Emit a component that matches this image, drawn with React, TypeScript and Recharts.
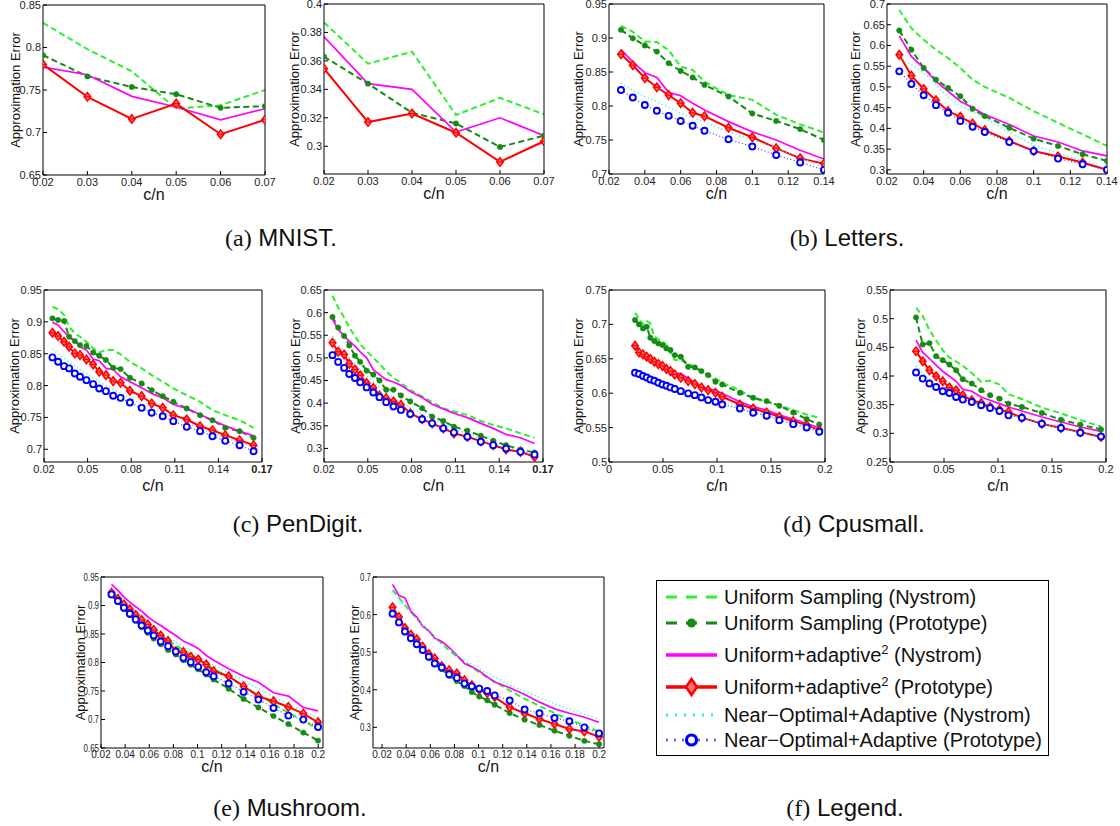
import React from 'react';
import { LineChart, Line, XAxis, YAxis } from 'recharts';

const FONT = '"Liberation Sans", Arial, Helvetica, sans-serif';
const SERIF = '"Liberation Serif", "Times New Roman", serif';

// ---------------- data ----------------
const mnistX = [0.02, 0.03, 0.04, 0.05, 0.06, 0.07];
const mnistA_uniNys = [0.829, 0.798, 0.772, 0.728, 0.732, 0.75];
const mnistA_uniProto = [0.791, 0.766, 0.7535, 0.745, 0.729, 0.731];
const mnistA_adaNys = [0.777, 0.768, 0.7425, 0.73, 0.715, 0.728];
const mnistA_adaProto = [0.78, 0.742, 0.716, 0.734, 0.698, 0.715];
const mnistB_uniNys = [0.387, 0.358, 0.3665, 0.322, 0.334, 0.3225];
const mnistB_uniProto = [0.363, 0.344, 0.3235, 0.316, 0.2995, 0.3075];
const mnistB_adaNys = [0.377, 0.344, 0.34, 0.31, 0.32, 0.3075];
const mnistB_adaProto = [0.3545, 0.317, 0.323, 0.3095, 0.289, 0.3035];

const lettersX = [0.0267, 0.0333, 0.04, 0.0467, 0.0533, 0.06, 0.0667, 0.0733, 0.0867, 0.1, 0.1133, 0.1267, 0.14];
const lettersA_uniNys = [0.918, 0.909, 0.895, 0.894, 0.882, 0.858, 0.853, 0.836, 0.816, 0.809, 0.787, 0.773, 0.761];
const lettersA_uniProto = [0.912, 0.8995, 0.889, 0.88, 0.863, 0.8515, 0.842, 0.831, 0.814, 0.789, 0.778, 0.766, 0.75];
const lettersA_adaNys = [0.883, 0.865, 0.849, 0.842, 0.82, 0.815, 0.804, 0.794, 0.777, 0.762, 0.75, 0.735, 0.722];
const lettersA_adaProto = [0.876, 0.86, 0.841, 0.8275, 0.816, 0.804, 0.79, 0.785, 0.768, 0.754, 0.738, 0.723, 0.715];
const lettersA_optNys = [0.833, 0.823, 0.814, 0.806, 0.798, 0.79, 0.783, 0.776, 0.762, 0.75, 0.738, 0.725, 0.709];
const lettersA_optProto = [0.8235, 0.8125, 0.8015, 0.793, 0.7855, 0.778, 0.771, 0.7635, 0.751, 0.7405, 0.728, 0.717, 0.706];
const lettersB_uniNys = [0.6856, 0.6416, 0.6136, 0.5896, 0.5696, 0.5456, 0.5176, 0.5, 0.4736, 0.4416, 0.4136, 0.3856, 0.3576];
const lettersB_uniProto = [0.636, 0.5896, 0.5456, 0.5176, 0.4976, 0.4776, 0.4472, 0.4296, 0.4016, 0.3752, 0.3576, 0.3376, 0.3216];
const lettersB_adaNys = [0.6232, 0.5736, 0.5456, 0.5136, 0.4896, 0.4656, 0.4496, 0.4336, 0.4096, 0.3816, 0.3672, 0.3456, 0.3336];
const lettersB_adaProto = [0.5776, 0.5272, 0.4952, 0.468, 0.4416, 0.428, 0.412, 0.396, 0.3696, 0.3456, 0.332, 0.3176, 0.3];
const lettersB_optNys = [0.575, 0.553, 0.535, 0.505, 0.475, 0.455, 0.44, 0.425, 0.39, 0.36, 0.34, 0.322, 0.305];
const lettersB_optProto = [0.5376, 0.5072, 0.48, 0.456, 0.4376, 0.4176, 0.404, 0.3912, 0.3672, 0.3456, 0.3272, 0.3136, 0.3];

const penX = [0.0258, 0.0297, 0.0338, 0.0373, 0.0412, 0.0448, 0.0492, 0.0538, 0.058, 0.0626, 0.0676, 0.0727, 0.0791, 0.0872, 0.0941, 0.1017, 0.109, 0.1182, 0.1274, 0.1359, 0.1447, 0.1546, 0.1642];
const penA_uniNys = [0.9238, 0.9196, 0.9107, 0.8924, 0.8819, 0.8766, 0.8688, 0.8583, 0.852, 0.8557, 0.8557, 0.8489, 0.8373, 0.8269, 0.8164, 0.8059, 0.7954, 0.7849, 0.7745, 0.7614, 0.7535, 0.7456, 0.7336];
const penA_uniProto = [0.9055, 0.9028, 0.9013, 0.8766, 0.8698, 0.8635, 0.862, 0.852, 0.8468, 0.84, 0.8279, 0.8258, 0.8122, 0.8033, 0.7928, 0.7834, 0.7745, 0.764, 0.7535, 0.7456, 0.7336, 0.7283, 0.7179];
const penA_adaNys = [0.8992, 0.895, 0.8845, 0.8766, 0.8698, 0.8609, 0.8557, 0.8415, 0.8389, 0.8269, 0.8253, 0.8138, 0.8059, 0.7965, 0.7876, 0.7807, 0.7703, 0.764, 0.7546, 0.7456, 0.7367, 0.7284, 0.721];
const penA_adaProto = [0.8829, 0.8777, 0.8688, 0.8609, 0.8504, 0.8478, 0.841, 0.8331, 0.8216, 0.8164, 0.807, 0.8043, 0.7918, 0.7834, 0.7719, 0.765, 0.7535, 0.7467, 0.7362, 0.7299, 0.7221, 0.7142, 0.7064];
const penA_optNys = [0.857, 0.85, 0.843, 0.837, 0.83, 0.825, 0.819, 0.812, 0.806, 0.8, 0.794, 0.788, 0.781, 0.772, 0.764, 0.757, 0.75, 0.741, 0.733, 0.725, 0.718, 0.711, 0.704];
const penA_optProto = [0.8442, 0.8373, 0.8305, 0.8269, 0.819, 0.8138, 0.8085, 0.8022, 0.7954, 0.7912, 0.7839, 0.7807, 0.7734, 0.765, 0.7572, 0.7519, 0.7441, 0.7352, 0.7284, 0.7205, 0.7132, 0.7064, 0.6969];
const penB_uniNys = [0.6374, 0.6114, 0.5892, 0.5669, 0.5483, 0.5298, 0.515, 0.5001, 0.4868, 0.4704, 0.4556, 0.4445, 0.4296, 0.4148, 0.4022, 0.3888, 0.3814, 0.374, 0.3606, 0.3517, 0.3443, 0.3332, 0.3235];
const penB_uniProto = [0.5906, 0.5669, 0.5483, 0.5276, 0.505, 0.4912, 0.4719, 0.463, 0.45, 0.4296, 0.4296, 0.417, 0.4037, 0.3888, 0.3703, 0.3606, 0.348, 0.3391, 0.328, 0.3168, 0.3072, 0.2975, 0.2909];
const penB_adaNys = [0.5854, 0.5632, 0.5483, 0.5372, 0.5261, 0.5135, 0.5001, 0.4741, 0.463, 0.4519, 0.4467, 0.4393, 0.4259, 0.4126, 0.3977, 0.3873, 0.3777, 0.368, 0.3554, 0.3443, 0.3309, 0.3235, 0.3109];
const penB_adaProto = [0.5335, 0.5135, 0.5075, 0.4868, 0.4741, 0.4615, 0.4445, 0.4333, 0.417, 0.4111, 0.4037, 0.3962, 0.3777, 0.3643, 0.3554, 0.3443, 0.3332, 0.3257, 0.3161, 0.3072, 0.2975, 0.2924, 0.2812];
const penB_optNys = [0.548, 0.53, 0.515, 0.5, 0.487, 0.475, 0.46, 0.448, 0.435, 0.423, 0.413, 0.403, 0.39, 0.376, 0.365, 0.353, 0.343, 0.333, 0.322, 0.312, 0.303, 0.296, 0.288];
const penB_optProto = [0.5061, 0.4912, 0.4779, 0.4645, 0.4556, 0.446, 0.4348, 0.4237, 0.4133, 0.4022, 0.3925, 0.3851, 0.3762, 0.3643, 0.3554, 0.3443, 0.3354, 0.3257, 0.3146, 0.3072, 0.2998, 0.2924, 0.2864];

const cpuAX = [0.0241, 0.0278, 0.0315, 0.0349, 0.0383, 0.042, 0.0457, 0.0495, 0.0532, 0.0569, 0.0609, 0.0665, 0.0733, 0.0795, 0.0856, 0.0918, 0.0986, 0.1048, 0.1212, 0.1335, 0.1459, 0.1577, 0.1706, 0.183, 0.1947];
const cpuA_uniNys = [0.717, 0.7088, 0.7, 0.7049, 0.7015, 0.6821, 0.6787, 0.6758, 0.67, 0.6593, 0.6481, 0.6481, 0.6433, 0.6384, 0.6312, 0.6263, 0.6215, 0.615, 0.6045, 0.5924, 0.5875, 0.5827, 0.5754, 0.5691, 0.5642];
const cpuA_uniProto = [0.7063, 0.7, 0.6942, 0.6966, 0.6806, 0.6758, 0.6724, 0.67, 0.6651, 0.6627, 0.6554, 0.653, 0.6384, 0.6375, 0.6321, 0.6263, 0.6166, 0.6127, 0.6006, 0.5933, 0.5885, 0.5817, 0.572, 0.5623, 0.5545];
const cpuA_adaNys = [0.6758, 0.6627, 0.6593, 0.6554, 0.653, 0.6457, 0.6433, 0.6409, 0.636, 0.6312, 0.6287, 0.6287, 0.6215, 0.6157, 0.6093, 0.606, 0.6045, 0.5996, 0.5875, 0.5802, 0.5754, 0.5681, 0.5623, 0.556, 0.5497];
const cpuA_adaProto = [0.669, 0.6593, 0.6564, 0.653, 0.6496, 0.6457, 0.6423, 0.6394, 0.6351, 0.6321, 0.6273, 0.6224, 0.6176, 0.6132, 0.6084, 0.6045, 0.6006, 0.5948, 0.5836, 0.5778, 0.572, 0.5657, 0.5594, 0.5536, 0.5463];
const cpuA_optNys = [0.634, 0.632, 0.629, 0.627, 0.624, 0.622, 0.619, 0.617, 0.615, 0.612, 0.61, 0.607, 0.603, 0.6, 0.597, 0.593, 0.59, 0.587, 0.58, 0.574, 0.569, 0.563, 0.557, 0.552, 0.546];
const cpuA_optProto = [0.6297, 0.6278, 0.6249, 0.6229, 0.62, 0.6181, 0.6152, 0.6127, 0.6108, 0.6084, 0.606, 0.603, 0.5997, 0.5972, 0.5938, 0.59, 0.5875, 0.5836, 0.5778, 0.5715, 0.5672, 0.5608, 0.555, 0.5502, 0.5439];
const cpuBX = [0.0241, 0.0303, 0.0365, 0.0427, 0.0488, 0.055, 0.0612, 0.0674, 0.0757, 0.0844, 0.0927, 0.1014, 0.1097, 0.1221, 0.1406, 0.1583, 0.1762, 0.1954];
const cpuB_uniNys = [0.519, 0.505, 0.48, 0.462, 0.445, 0.432, 0.425, 0.418, 0.405, 0.39, 0.392, 0.385, 0.368, 0.36, 0.345, 0.335, 0.323, 0.312];
const cpuB_uniProto = [0.5022, 0.455, 0.4573, 0.4346, 0.4276, 0.42, 0.4101, 0.3943, 0.3868, 0.3751, 0.3664, 0.3605, 0.3518, 0.346, 0.3355, 0.3238, 0.3151, 0.3069];
const cpuB_adaNys = [0.4625, 0.441, 0.4305, 0.4188, 0.4083, 0.3996, 0.3908, 0.3768, 0.3734, 0.3634, 0.3576, 0.3518, 0.346, 0.339, 0.3285, 0.3197, 0.311, 0.3034];
const cpuB_adaProto = [0.4433, 0.4258, 0.4101, 0.3996, 0.3908, 0.3798, 0.3751, 0.3664, 0.3576, 0.353, 0.346, 0.3413, 0.3372, 0.3273, 0.3168, 0.3092, 0.3022, 0.2935];
const cpuB_optNys = [0.418, 0.405, 0.394, 0.386, 0.378, 0.372, 0.366, 0.36, 0.355, 0.349, 0.344, 0.339, 0.333, 0.327, 0.317, 0.309, 0.301, 0.294];
const cpuB_optProto = [0.406, 0.3955, 0.3868, 0.3809, 0.3734, 0.3704, 0.3634, 0.3588, 0.3547, 0.3489, 0.3442, 0.339, 0.3314, 0.3273, 0.3168, 0.3092, 0.3011, 0.2946];

const mushX = [0.0287, 0.034, 0.039, 0.0439, 0.0488, 0.0537, 0.0588, 0.0637, 0.0695, 0.0756, 0.082, 0.0883, 0.0944, 0.1006, 0.1072, 0.1134, 0.1258, 0.1382, 0.1505, 0.163, 0.1753, 0.1877, 0.1999];
const mushA_uniNys = [0.925, 0.915, 0.904, 0.894, 0.884, 0.874, 0.864, 0.856, 0.848, 0.838, 0.83, 0.822, 0.814, 0.806, 0.797, 0.789, 0.775, 0.758, 0.743, 0.727, 0.712, 0.698, 0.683];
const mushA_uniProto = [0.918, 0.906, 0.894, 0.883, 0.873, 0.862, 0.852, 0.842, 0.832, 0.822, 0.814, 0.804, 0.796, 0.788, 0.779, 0.77, 0.754, 0.736, 0.721, 0.706, 0.692, 0.677, 0.663];
const mushA_adaNys = [0.9371, 0.9266, 0.9148, 0.906, 0.8978, 0.8902, 0.8803, 0.8726, 0.865, 0.8562, 0.8474, 0.8375, 0.8316, 0.8246, 0.8123, 0.8041, 0.7889, 0.776, 0.7654, 0.747, 0.741, 0.721, 0.715];
const mushA_adaProto = [0.9225, 0.9119, 0.9019, 0.8932, 0.8832, 0.8744, 0.8668, 0.8568, 0.8474, 0.8375, 0.8199, 0.8182, 0.81, 0.8053, 0.7965, 0.7847, 0.776, 0.7584, 0.7408, 0.732, 0.722, 0.7103, 0.6951];
const mushA_optNys = [0.928, 0.918, 0.908, 0.898, 0.889, 0.879, 0.871, 0.862, 0.853, 0.844, 0.836, 0.828, 0.82, 0.812, 0.803, 0.795, 0.782, 0.768, 0.754, 0.74, 0.727, 0.715, 0.703];
const mushA_optProto = [0.9195, 0.9078, 0.8961, 0.8855, 0.8756, 0.865, 0.8562, 0.8474, 0.8369, 0.8287, 0.8193, 0.8082, 0.8006, 0.7924, 0.783, 0.776, 0.7631, 0.7484, 0.7349, 0.7203, 0.7068, 0.6998, 0.6869];
const mushB_uniNys = [0.665, 0.645, 0.625, 0.607, 0.59, 0.572, 0.555, 0.54, 0.523, 0.505, 0.488, 0.474, 0.46, 0.446, 0.433, 0.421, 0.398, 0.376, 0.357, 0.338, 0.321, 0.305, 0.288];
const mushB_uniProto = [0.61, 0.585, 0.56, 0.54, 0.522, 0.505, 0.485, 0.468, 0.455, 0.437, 0.423, 0.41, 0.394, 0.382, 0.372, 0.36, 0.338, 0.3205, 0.306, 0.291, 0.2776, 0.264, 0.2552];
const mushB_adaNys = [0.6803, 0.6508, 0.6445, 0.6087, 0.5935, 0.5684, 0.5568, 0.5371, 0.5282, 0.513, 0.4924, 0.47, 0.461, 0.4503, 0.4342, 0.4208, 0.4055, 0.3876, 0.367, 0.3492, 0.3375, 0.3268, 0.3134];
const mushB_adaProto = [0.6194, 0.5935, 0.564, 0.5461, 0.5344, 0.5147, 0.495, 0.4834, 0.4628, 0.4521, 0.4431, 0.4252, 0.4118, 0.4002, 0.3912, 0.3805, 0.3536, 0.3375, 0.3223, 0.3089, 0.2955, 0.2892, 0.2749];
const mushB_optNys = [0.662, 0.642, 0.622, 0.604, 0.587, 0.57, 0.553, 0.538, 0.523, 0.508, 0.493, 0.48, 0.468, 0.456, 0.445, 0.434, 0.413, 0.395, 0.38, 0.363, 0.348, 0.335, 0.322];
const mushB_optProto = [0.6024, 0.5792, 0.555, 0.5371, 0.521, 0.5058, 0.4879, 0.47, 0.4592, 0.4413, 0.4315, 0.4163, 0.4091, 0.4029, 0.3966, 0.385, 0.3715, 0.3474, 0.3375, 0.325, 0.316, 0.2999, 0.2838];

// tick labels
const ticksMnistX = [0.02, 0.03, 0.04, 0.05, 0.06, 0.07];
const ticksLettersX = [0.02, 0.04, 0.06, 0.08, 0.1, 0.12, 0.14];
const ticksPenX = [0.02, 0.05, 0.08, 0.11, 0.14, 0.17];
const ticksCpuX = [0, 0.05, 0.1, 0.15, 0.2];
const ticksMushX = [0.02, 0.04, 0.06, 0.08, 0.1, 0.12, 0.14, 0.16, 0.18, 0.2];
const ticksY1 = [0.65, 0.7, 0.75, 0.8, 0.85];
const ticksY2 = [0.3, 0.32, 0.34, 0.36, 0.38, 0.4];
const ticksY3 = [0.7, 0.75, 0.8, 0.85, 0.9, 0.95];
const ticksY4 = [0.3, 0.35, 0.4, 0.45, 0.5, 0.55, 0.6, 0.65, 0.7];
const ticksY5 = [0.7, 0.75, 0.8, 0.85, 0.9, 0.95];
const ticksY6 = [0.3, 0.35, 0.4, 0.45, 0.5, 0.55, 0.6, 0.65];
const ticksY7 = [0.5, 0.55, 0.6, 0.65, 0.7, 0.75];
const ticksY8 = [0.25, 0.3, 0.35, 0.4, 0.45, 0.5, 0.55];
const ticksY9 = [0.65, 0.7, 0.75, 0.8, 0.85, 0.9, 0.95];
const ticksY10 = [0.3, 0.4, 0.5, 0.6, 0.7];

const legendLabels = [
  'Uniform Sampling (Nystrom)',
  'Uniform Sampling (Prototype)',
  'Uniform+adaptive',
  'Uniform+adaptive',
  'Near\u2212Optimal+Adaptive (Nystrom)',
  'Near\u2212Optimal+Adaptive (Prototype)',
];

// ---------------- styles ----------------
type Key = 'lg' | 'dg' | 'pk' | 'rd' | 'cy' | 'bl';
const ORDER: Key[] = ['lg', 'dg', 'pk', 'rd', 'cy', 'bl'];
const COL: Record<Key, string> = {
  lg: '#2cf02c',
  dg: '#148c14',
  pk: '#ff00ff',
  rd: '#ff0000',
  cy: '#40f0f0',
  bl: '#0000ff',
};

const GreenDot = (p: any) => {
  if (p.cx == null || p.cy == null) return <g />;
  return <circle cx={p.cx} cy={p.cy} r={2.7} fill={COL.dg} stroke={COL.dg} strokeWidth={0.5} />;
};
const Diamond = (p: any) => {
  if (p.cx == null || p.cy == null) return <g />;
  const { cx, cy } = p;
  return (
    <g>
      <path d={`M${cx},${cy - 4.3} L${cx + 3.3},${cy} L${cx},${cy + 4.3} L${cx - 3.3},${cy} Z`} fill="#ff7070" stroke={COL.rd} strokeWidth={1.5} />
      <line x1={cx - 3} y1={cy} x2={cx + 3} y2={cy} stroke={COL.rd} strokeWidth={1.2} />
    </g>
  );
};
const Ring = (p: any) => {
  if (p.cx == null || p.cy == null) return <g />;
  return <circle cx={p.cx} cy={p.cy} r={3} fill="#ffffff" stroke={COL.bl} strokeWidth={1.9} />;
};

function lineProps(k: Key) {
  switch (k) {
    case 'lg':
      return { stroke: COL.lg, strokeWidth: 2, strokeDasharray: '6 3.5', dot: false };
    case 'dg':
      return { stroke: COL.dg, strokeWidth: 2, strokeDasharray: '6 3.5', dot: GreenDot };
    case 'pk':
      return { stroke: COL.pk, strokeWidth: 1.7, dot: false };
    case 'rd':
      return { stroke: COL.rd, strokeWidth: 2, dot: Diamond };
    case 'cy':
      return { stroke: COL.cy, strokeWidth: 1.4, strokeDasharray: '1.2 2.6', dot: false };
    default:
      return { stroke: '#3a3aff', strokeWidth: 1.2, strokeDasharray: '1 2.4', dot: Ring };
  }
}

interface PanelDef {
  box: [number, number, number, number];
  x: number[];
  s: Partial<Record<Key, number[]>>;
  xDomain: [number, number];
  xTicks: number[];
  yDomain: [number, number];
  yTicks: number[];
  ylabGap: number;
  xlabOff: number;
  boldTick?: number;
  xFont: number;
  yScale: number;
}

const YW = 50;
const XH = 40;
const MT = 10;
const MR = 18;

function Panel({ d }: { d: PanelDef }) {
  const [l, t, r, b] = d.box;
  const w = r - l;
  const h = b - t;
  const rows = d.x.map((x, i) => {
    const o: any = { x };
    ORDER.forEach((k) => {
      const arr = d.s[k];
      if (arr) o[k] = arr[i];
    });
    return o;
  });
  const xTick = (p: any) => {
    const v = p.payload.value;
    const bold = d.boldTick !== undefined && Math.abs(v - d.boldTick) < 1e-9;
    return (
      <text x={p.x} y={p.y} dy="0.72em" textAnchor="middle" fontSize={d.xFont} fontFamily={FONT} fill="#222" fontWeight={bold ? 'bold' : 'normal'}>
        {String(v)}
      </text>
    );
  };
  const yTick = (p: any) => (
    <text transform={`translate(${p.x},${p.y}) scale(${d.yScale},1)`} x={0} y={0} dy="0.36em" textAnchor="end" fontSize={11} fontFamily={FONT} fill="#222">
      {String(p.payload.value)}
    </text>
  );
  return (
    <div style={{ position: 'absolute', left: l - YW, top: t - MT - 1 }}>
      <LineChart width={YW + w + 1 + MR} height={MT + 1 + h + XH} data={rows} margin={{ top: MT, right: MR, bottom: 0, left: 0 }}>
        <XAxis
          xAxisId="b"
          dataKey="x"
          type="number"
          domain={d.xDomain}
          allowDataOverflow
          ticks={d.xTicks}
          interval={0}
          height={XH}
          tickSize={-4}
          tickMargin={7}
          stroke="#000"
          tickLine={{ stroke: '#000' }}
          tick={xTick}
          label={{ value: 'c/n', position: 'insideTop', offset: d.xlabOff, style: { fontSize: 16, fontFamily: FONT, fill: '#111' } }}
        />
        <XAxis
          xAxisId="t"
          orientation="top"
          dataKey="x"
          type="number"
          domain={d.xDomain}
          allowDataOverflow
          ticks={d.xTicks}
          interval={0}
          height={1}
          tickSize={-4}
          stroke="#000"
          tickLine={{ stroke: '#000' }}
          tick={false}
        />
        <YAxis
          yAxisId="l"
          type="number"
          domain={d.yDomain}
          allowDataOverflow
          ticks={d.yTicks}
          interval={0}
          width={YW}
          tickSize={-4}
          tickMargin={6}
          stroke="#000"
          tickLine={{ stroke: '#000' }}
          tick={yTick}
          label={{
            value: 'Approximation Error',
            angle: -90,
            position: 'insideLeft',
            offset: YW - d.ylabGap,
            style: { textAnchor: 'middle', fontSize: 13, fontFamily: FONT, fill: '#111' },
          }}
        />
        <YAxis
          yAxisId="r"
          orientation="right"
          type="number"
          domain={d.yDomain}
          allowDataOverflow
          ticks={d.yTicks}
          interval={0}
          width={1}
          tickSize={-4}
          stroke="#000"
          tickLine={{ stroke: '#000' }}
          tick={false}
        />
        {ORDER.filter((k) => d.s[k]).map((k) => (
          <Line key={k} xAxisId="b" yAxisId="l" type="linear" dataKey={k} isAnimationActive={false} {...(lineProps(k) as any)} />
        ))}
      </LineChart>
    </div>
  );
}

const panels: PanelDef[] = [
  { box: [43, 5, 265, 175], x: mnistX, s: { lg: mnistA_uniNys, dg: mnistA_uniProto, pk: mnistA_adaNys, rd: mnistA_adaProto }, xDomain: [0.02, 0.07], xTicks: ticksMnistX, yDomain: [0.65, 0.85], yTicks: ticksY1, ylabGap: 28, xlabOff: 14, xFont: 11, yScale: 1 },
  { box: [324, 4, 544, 174], x: mnistX, s: { lg: mnistB_uniNys, dg: mnistB_uniProto, pk: mnistB_adaNys, rd: mnistB_adaProto }, xDomain: [0.02, 0.07], xTicks: ticksMnistX, yDomain: [0.2805, 0.4], yTicks: ticksY2, ylabGap: 30, xlabOff: 14, xFont: 11, yScale: 1 },
  { box: [609, 4, 824, 174], x: lettersX, s: { lg: lettersA_uniNys, dg: lettersA_uniProto, pk: lettersA_adaNys, rd: lettersA_adaProto, cy: lettersA_optNys, bl: lettersA_optProto }, xDomain: [0.02, 0.14], xTicks: ticksLettersX, yDomain: [0.7, 0.95], yTicks: ticksY3, ylabGap: 31, xlabOff: 14, xFont: 11, yScale: 1 },
  { box: [887, 4, 1107, 174], x: lettersX, s: { lg: lettersB_uniNys, dg: lettersB_uniProto, pk: lettersB_adaNys, rd: lettersB_adaProto, cy: lettersB_optNys, bl: lettersB_optProto }, xDomain: [0.02, 0.14], xTicks: ticksLettersX, yDomain: [0.29, 0.7], yTicks: ticksY4, ylabGap: 32, xlabOff: 14, xFont: 11, yScale: 1 },
  { box: [44, 290, 262, 462], x: penX, s: { lg: penA_uniNys, dg: penA_uniProto, pk: penA_adaNys, rd: penA_adaProto, cy: penA_optNys, bl: penA_optProto }, xDomain: [0.02, 0.17], xTicks: ticksPenX, yDomain: [0.68, 0.95], yTicks: ticksY5, ylabGap: 30, xlabOff: 18, boldTick: 0.17, xFont: 11, yScale: 1 },
  { box: [324, 290, 543, 462], x: penX, s: { lg: penB_uniNys, dg: penB_uniProto, pk: penB_adaNys, rd: penB_adaProto, cy: penB_optNys, bl: penB_optProto }, xDomain: [0.02, 0.17], xTicks: ticksPenX, yDomain: [0.27, 0.65], yTicks: ticksY6, ylabGap: 29, xlabOff: 18, boldTick: 0.17, xFont: 11, yScale: 1 },
  { box: [609, 290, 825, 462], x: cpuAX, s: { lg: cpuA_uniNys, dg: cpuA_uniProto, pk: cpuA_adaNys, rd: cpuA_adaProto, cy: cpuA_optNys, bl: cpuA_optProto }, xDomain: [0, 0.2], xTicks: ticksCpuX, yDomain: [0.5, 0.75], yTicks: ticksY7, ylabGap: 31, xlabOff: 18, xFont: 11, yScale: 1 },
  { box: [890, 290, 1106, 462], x: cpuBX, s: { lg: cpuB_uniNys, dg: cpuB_uniProto, pk: cpuB_adaNys, rd: cpuB_adaProto, cy: cpuB_optNys, bl: cpuB_optProto }, xDomain: [0, 0.2], xTicks: ticksCpuX, yDomain: [0.25, 0.55], yTicks: ticksY8, ylabGap: 30, xlabOff: 18, xFont: 11, yScale: 1 },
  { box: [101, 577, 323, 748], x: mushX, s: { lg: mushA_uniNys, dg: mushA_uniProto, pk: mushA_adaNys, rd: mushA_adaProto, cy: mushA_optNys, bl: mushA_optProto }, xDomain: [0.02, 0.204], xTicks: ticksMushX, yDomain: [0.65, 0.95], yTicks: ticksY9, ylabGap: 21, xlabOff: 13, xFont: 10, yScale: 0.72 },
  { box: [373, 577, 604, 748], x: mushX, s: { lg: mushB_uniNys, dg: mushB_uniProto, pk: mushB_adaNys, rd: mushB_adaProto, cy: mushB_optNys, bl: mushB_optProto }, xDomain: [0.0125, 0.204], xTicks: ticksMushX, yDomain: [0.245, 0.7], yTicks: ticksY10, ylabGap: 19, xlabOff: 13, xFont: 10, yScale: 0.72 },
];

const captions: { tag: string; name: string; cx: number; cy: number }[] = [
  { tag: '(a)', name: 'MNIST.', cx: 281, cy: 238 },
  { tag: '(b)', name: 'Letters.', cx: 847, cy: 238 },
  { tag: '(c)', name: 'PenDigit.', cx: 298, cy: 524 },
  { tag: '(d)', name: 'Cpusmall.', cx: 854, cy: 524 },
  { tag: '(e)', name: 'Mushroom.', cx: 290, cy: 808 },
  { tag: '(f)', name: 'Legend.', cx: 845, cy: 808 },
];

function Legend() {
  const rowsY = [27, 53, 85, 117, 145, 170];
  const x0 = 26;
  const x1 = 77;
  const xm = 51.5;
  const tx = 84;
  const fs = 20;
  return (
    <svg width={430} height={200} style={{ position: 'absolute', left: 640, top: 570 }}>
      <rect x={16.5} y={10.5} width={392} height={175} fill="#fff" stroke="#000" strokeWidth={1} />
      <line x1={x0} y1={rowsY[0]} x2={x1} y2={rowsY[0]} stroke={COL.lg} strokeWidth={3.2} strokeDasharray="11 9" />
      <line x1={x0} y1={rowsY[1]} x2={x1} y2={rowsY[1]} stroke={COL.dg} strokeWidth={3.2} strokeDasharray="11 9" />
      <circle cx={xm} cy={rowsY[1]} r={4.5} fill={COL.dg} />
      <line x1={x0} y1={rowsY[2]} x2={x1} y2={rowsY[2]} stroke={COL.pk} strokeWidth={3.5} />
      <line x1={x0} y1={rowsY[3]} x2={x1} y2={rowsY[3]} stroke={COL.rd} strokeWidth={3.5} />
      <path d={`M${xm},${rowsY[3] - 8} L${xm + 5.5},${rowsY[3]} L${xm},${rowsY[3] + 8} L${xm - 5.5},${rowsY[3]} Z`} fill="#ff7070" stroke={COL.rd} strokeWidth={2.5} />
      <line x1={x0} y1={rowsY[4]} x2={x1} y2={rowsY[4]} stroke={COL.cy} strokeWidth={3.5} strokeDasharray="2 7" />
      <line x1={x0} y1={rowsY[5]} x2={x1} y2={rowsY[5]} stroke="#6a6aff" strokeWidth={3} strokeDasharray="2 6" />
      <circle cx={xm} cy={rowsY[5]} r={5} fill="#fff" stroke={COL.bl} strokeWidth={3.2} />
      <g fontFamily={FONT} fontSize={fs} fill="#111">
        <text x={tx} y={rowsY[0]} dy="0.36em">{legendLabels[0]}</text>
        <text x={tx} y={rowsY[1]} dy="0.36em">{legendLabels[1]}</text>
        <text x={tx} y={rowsY[2]} dy="0.36em">
          {legendLabels[2]}
          <tspan dy={-8} fontSize={13}>2</tspan>
          <tspan dy={8}> (Nystrom)</tspan>
        </text>
        <text x={tx} y={rowsY[3]} dy="0.36em">
          {legendLabels[3]}
          <tspan dy={-8} fontSize={13}>2</tspan>
          <tspan dy={8}> (Prototype)</tspan>
        </text>
        <text x={tx} y={rowsY[4]} dy="0.36em">{legendLabels[4]}</text>
        <text x={tx} y={rowsY[5]} dy="0.36em">{legendLabels[5]}</text>
      </g>
    </svg>
  );
}

export default function App() {
  return (
    <div style={{ position: 'absolute', left: 0, top: 0, width: 1120, height: 826, background: '#fff', overflow: 'hidden' }}>
      {panels.map((d, i) => (
        <Panel key={i} d={d} />
      ))}
      <Legend />
      {captions.map((c, i) => (
        <div
          key={i}
          style={{ position: 'absolute', left: c.cx - 200, top: c.cy - 16, width: 400, height: 32, lineHeight: '32px', textAlign: 'center', fontSize: 24, color: '#111', whiteSpace: 'nowrap' }}
        >
          <span style={{ fontFamily: SERIF }}>{c.tag}</span>
          <span style={{ fontFamily: FONT }}> {c.name}</span>
        </div>
      ))}
    </div>
  );
}
